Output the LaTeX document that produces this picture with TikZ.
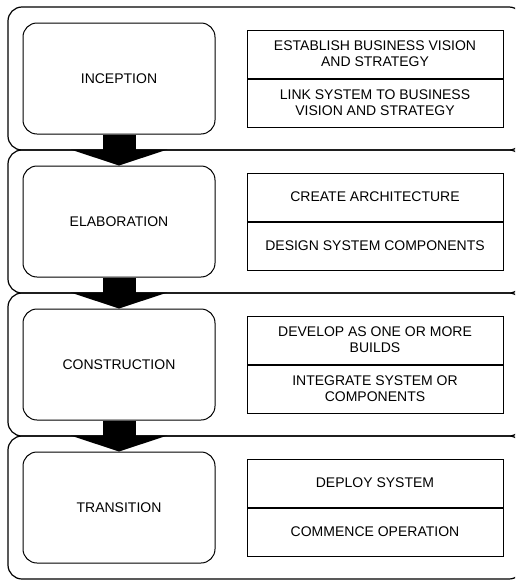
\documentclass[tikz,border=0pt]{standalone}
\usepackage{fontspec}
\setmainfont{Liberation Sans}
\usetikzlibrary{arrows.meta,positioning}
\tikzset{
  stage/.style={draw, line width=1.2pt, rounded corners=14pt,
    minimum width=515pt, minimum height=143pt, inner sep=0pt},
  phase/.style={draw, line width=1pt, rounded corners=14pt,
    minimum width=192pt, minimum height=111pt,
    font=\fontsize{14}{16}\selectfont},
  task/.style={draw, line width=1pt, minimum width=256pt,
    minimum height=48pt, inner sep=0pt, align=center,
    font=\fontsize{14}{16}\selectfont},
  flow/.style={line width=33pt,
    -{Triangle[length=16pt,width=97pt,line width=0pt]}}
}
\begin{document}
\begin{tikzpicture}[x=1pt,y=-1pt]
      \useasboundingbox (0,0) rectangle (515,581);
      \clip (0,0) rectangle (515,581);
      % stages
      \draw
        (265.5,78.5) node[stage] (s1){}
        (265.5,221.5) node[stage] (s2){}
        (265.5,364.5) node[stage] (s3){}
        (265.5,507.5) node[stage] (s4){};
      % phases
      \draw
        (119,78.5) node[phase] (inception){INCEPTION}
        (119,221.5) node[phase] (elaboration){ELABORATION}
        (119,364.5) node[phase] (construction){CONSTRUCTION}
        (119,507.5) node[phase] (transition){TRANSITION};
      % tasks
      \node[task, anchor=south] (vision) at (375,78.5)
        {ESTABLISH BUSINESS VISION\\AND STRATEGY};
      \node[task, below=0pt of vision] (link)
        {LINK SYSTEM TO BUSINESS\\VISION AND STRATEGY};
      \node[task, anchor=south] (architecture) at (375,221.5)
        {CREATE ARCHITECTURE};
      \node[task, below=0pt of architecture] (components)
        {DESIGN SYSTEM COMPONENTS};
      \node[task, anchor=south] (develop) at (375,364.5)
        {DEVELOP AS ONE OR MORE\\BUILDS};
      \node[task, below=0pt of develop] (integrate)
        {INTEGRATE SYSTEM OR\\COMPONENTS};
      \node[task, anchor=south] (deploy) at (375,507.5)
        {DEPLOY SYSTEM};
      \node[task, below=0pt of deploy] (operation)
        {COMMENCE OPERATION};
      \begin{scope}[flow]
        \draw (inception) to (elaboration);
        \draw (elaboration) to (construction);
        \draw (construction) to (transition);
      \end{scope}
    \end{tikzpicture}
\end{document}
